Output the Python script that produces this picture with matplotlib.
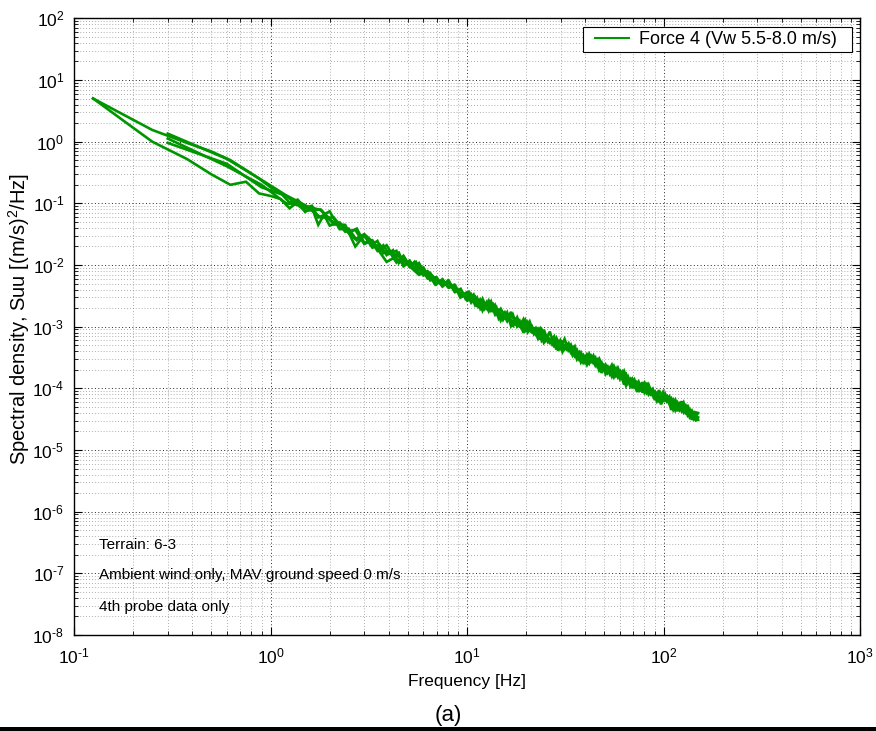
import numpy as np
import matplotlib
matplotlib.use("Agg")
import matplotlib.pyplot as plt
from matplotlib.ticker import LogLocator, NullFormatter, FuncFormatter
from matplotlib.patches import Rectangle

plt.rcParams['font.family'] = ['Liberation Sans', 'DejaVu Sans']
plt.rcParams['mathtext.fontset'] = 'custom'
plt.rcParams['mathtext.rm'] = 'Liberation Sans'
plt.rcParams['mathtext.it'] = 'Liberation Sans:italic'
plt.rcParams['mathtext.bf'] = 'Liberation Sans:bold'

# ---- data: log10 of spectral density Suu ----
freq_a = [0.125, 0.25, 0.375, 0.5, 0.625, 0.75, 0.875, 1.0,
          1.125, 1.25, 1.375, 1.5, 1.625, 1.75, 1.875, 2.0,
          2.25, 2.5, 2.75, 3.0, 3.25, 3.5, 3.75, 4.0,
          4.375, 4.75, 5.125, 5.5, 6.0, 6.5, 7.0, 7.5, 8.0, 8.625, 9.25, 10,
          10.5, 11, 11.5, 12, 12.625, 13.25, 13.875, 14.5, 15.25, 16,
          16.75, 17.625, 18.5, 19.375, 20.375, 21.375, 22.375, 23.5, 24.625, 25.875,
          27.125, 28.5, 29.875, 31.375, 32.875, 34.5, 36.25, 38, 39.875, 41.875,
          44, 46.125, 48.375, 50.75, 53.25, 55.875, 58.625, 61.5, 64.5, 67.75,
          71.125, 74.625, 78.25, 82.125, 86.125, 90.375, 94.875, 99.5, 104.375, 109.5,
          115, 120.625, 126.5, 132.75, 139.25, 146, 150]
log_suu_a1 = [0.70, 0.19, -0.02, -0.16, -0.30, -0.46, -0.60, -0.74,
              -0.83, -0.99, -0.94, -1.08, -1.04, -1.23, -1.19, -1.36,
              -1.31, -1.48, -1.41, -1.64, -1.61, -1.77, -1.68, -1.82,
              -1.77, -2.02, -1.94, -2.09, -2.04, -2.25, -2.20, -2.34, -2.25, -2.43, -2.39, -2.57,
              -2.48, -2.65, -2.57, -2.74, -2.60, -2.74, -2.65, -2.87, -2.78, -2.91,
              -2.76, -2.96, -2.90, -3.10, -2.93, -3.08, -3.02, -3.21, -3.05, -3.25,
              -3.19, -3.37, -3.22, -3.36, -3.27, -3.47, -3.38, -3.58, -3.48, -3.60,
              -3.47, -3.65, -3.58, -3.77, -3.67, -3.82, -3.67, -3.84, -3.77, -3.97,
              -3.86, -4.06, -3.90, -4.08, -4.02, -4.19, -4.03, -4.20, -4.13, -4.35,
              -4.19, -4.35, -4.23, -4.44, -4.36, -4.52, -4.51]
log_suu_a2 = [0.70, 0.00, -0.28, -0.53, -0.70, -0.65, -0.84, -0.88,
              -0.93, -1.08, -0.98, -1.14, -1.07, -1.35, -1.18, -1.13,
              -1.42, -1.41, -1.60, -1.51, -1.68, -1.61, -1.81, -1.77,
              -1.96, -1.85, -2.02, -1.95, -2.17, -2.13, -2.31, -2.23, -2.36, -2.32, -2.53, -2.47,
              -2.61, -2.52, -2.70, -2.55, -2.70, -2.59, -2.80, -2.73, -2.89, -2.77,
              -2.99, -2.88, -2.99, -2.88, -3.09, -2.99, -3.12, -3.03, -3.26, -3.17,
              -3.29, -3.18, -3.34, -3.20, -3.39, -3.33, -3.53, -3.42, -3.58, -3.44,
              -3.59, -3.53, -3.75, -3.62, -3.77, -3.64, -3.82, -3.73, -3.96, -3.85,
              -3.98, -3.89, -4.07, -3.91, -4.10, -4.05, -4.20, -4.06, -4.22, -4.16,
              -4.36, -4.25, -4.39, -4.27, -4.51, -4.39, -4.40]

freq_b = [0.3, 0.6, 0.9, 1.2, 1.5, 1.8, 2.1, 2.4, 2.7, 3.0, 3.3, 3.6, 3.9,
          4.2, 4.5, 4.8, 5.1, 5.4, 5.7, 6.3, 6.9, 7.5, 8.1, 8.7, 9.3, 9.9,
          10.2, 10.8, 11.25, 11.7, 12.3, 12.9, 13.5, 14.1, 14.85, 15.6,
          16.35, 17.1, 18.0, 18.9, 19.8, 20.85, 21.9, 22.95, 24.0, 25.2,
          26.4, 27.75, 29.1, 30.6, 32.1, 33.75, 35.4, 37.2, 39.0, 40.8,
          42.9, 45.0, 47.1, 49.5, 51.9, 54.6, 57.3, 60.0, 63.0, 66.0,
          69.3, 72.9, 76.5, 80.1, 84.0, 88.2, 92.7, 97.2, 102.0, 107.1,
          112.2, 117.9, 123.6, 129.6, 135.9, 142.8, 148.2]
log_suu_b1 = [0.13, -0.28, -0.62, -0.87, -1.03, -1.23, -1.23, -1.46, -1.43, -1.66, -1.60, -1.77, -1.68,
              -1.85, -1.80, -2.01, -1.93, -2.05, -1.97, -2.22, -2.20, -2.35, -2.26, -2.44, -2.39, -2.57,
              -2.42, -2.60, -2.53, -2.71, -2.62, -2.75, -2.61, -2.80, -2.71, -2.84,
              -2.80, -3.00, -2.85, -3.02, -2.89, -3.06, -3.03, -3.19, -3.05, -3.22,
              -3.08, -3.31, -3.24, -3.41, -3.28, -3.42, -3.32, -3.53, -3.46, -3.62,
              -3.48, -3.63, -3.52, -3.68, -3.64, -3.81, -3.68, -3.85, -3.72, -3.90,
              -3.84, -4.03, -3.94, -4.07, -3.94, -4.12, -4.07, -4.26, -4.09, -4.24,
              -4.18, -4.37, -4.21, -4.40, -4.34, -4.50, -4.42]
log_suu_b2 = [0.05, -0.40, -0.70, -1.00, -1.04, -1.11, -1.34, -1.35, -1.70, -1.52, -1.72, -1.67, -1.84,
              -1.76, -1.97, -1.90, -2.03, -1.95, -2.13, -2.13, -2.32, -2.24, -2.37, -2.33, -2.50, -2.45,
              -2.56, -2.48, -2.68, -2.57, -2.71, -2.58, -2.74, -2.68, -2.90, -2.77,
              -2.89, -2.80, -3.00, -2.93, -3.06, -2.92, -3.12, -3.04, -3.23, -3.15,
              -3.26, -3.16, -3.39, -3.26, -3.37, -3.29, -3.48, -3.41, -3.58, -3.45,
              -3.57, -3.50, -3.71, -3.62, -3.75, -3.62, -3.80, -3.72, -3.94, -3.81,
              -3.98, -3.90, -4.02, -3.91, -4.10, -4.01, -4.21, -4.10, -4.20, -4.13,
              -4.35, -4.23, -4.37, -4.28, -4.47, -4.39, -4.49]

freq_c = [0.3, 0.6, 0.9, 1.2, 1.5, 1.8, 2.1, 2.4, 2.7, 3.0, 3.3, 3.9, 4.5, 5.1, 5.7, 6.3,
          7.2, 8.1, 9.0, 9.9, 11.1, 12.3, 13.8, 15.3, 16.8, 18.6, 20.4, 22.5, 24.9, 27.3,
          30.0, 33.0, 36.3, 39.9, 43.8, 48.0, 52.5, 57.6, 63.0, 69.0, 75.6, 82.5, 90.0,
          98.1, 106.8, 115.8, 125.4, 135.3, 144.9, 150.0]
log_suu_c = [-0.02, -0.36, -0.74, -0.88, -1.12, -1.10, -1.32, -1.42, -1.58, -1.50, -1.62, -1.95,
             -1.84, -2.02, -2.16, -2.10, -2.28, -2.30, -2.44, -2.52, -2.55, -2.70, -2.72, -2.86,
             -2.90, -3.00, -3.05, -3.13, -3.20, -3.26, -3.33, -3.37, -3.46, -3.50, -3.58, -3.63,
             -3.70, -3.77, -3.83, -3.90, -3.97, -4.04, -4.10, -4.17, -4.22, -4.28, -4.33, -4.39,
             -4.44, -4.47]

series = [(freq_a, log_suu_a1), (freq_a, log_suu_a2),
          (freq_b, log_suu_b1), (freq_b, log_suu_b2), (freq_c, log_suu_c)]

legend_label = 'Force 4 (Vw 5.5-8.0 m/s)'
notes = ['Terrain: 6-3', 'Ambient wind only, MAV ground speed 0 m/s', '4th probe data only']
note_logy = [-6.54, -7.03, -7.54]
green = '#009600'

# ---- figure ----
W, H = 876, 731
fig = plt.figure(figsize=(W / 100, H / 100), dpi=100)
ax = fig.add_axes([74 / W, 1 - 635 / H, (860 - 74) / W, (635 - 18.3) / H])

for i, (f, ls) in enumerate(series):
    ax.plot(f, np.power(10.0, ls), color=green, lw=1.9,
            label=legend_label if i == 0 else None, solid_joinstyle='miter', zorder=3)

ax.set_xscale('log')
ax.set_yscale('log')
ax.set_xlim(1e-1, 1e3)
ax.set_ylim(1e-8, 1e2)


def pow10_label(v, pos):
    e = int(round(np.log10(v)))
    s = str(e).replace('-', r'\text{-}')
    return r'$10^{' + s + '}$'


ax.xaxis.set_major_locator(LogLocator(base=10, numticks=20))
ax.yaxis.set_major_locator(LogLocator(base=10, numticks=20))
ax.xaxis.set_major_formatter(FuncFormatter(pow10_label))
ax.yaxis.set_major_formatter(FuncFormatter(pow10_label))
ax.xaxis.set_minor_locator(LogLocator(base=10, subs=np.arange(2, 10), numticks=200))
ax.yaxis.set_minor_locator(LogLocator(base=10, subs=np.arange(2, 10), numticks=200))
ax.xaxis.set_minor_formatter(NullFormatter())
ax.yaxis.set_minor_formatter(NullFormatter())

ax.grid(True, which='major', linestyle=(0, (1, 2.5)), color='k', lw=0.7, alpha=0.85)
ax.grid(True, which='minor', linestyle=(0, (1, 2.5)), color='#666666', lw=0.6, alpha=0.7)

ax.tick_params(which='both', direction='in', top=True, right=True, labelsize=12.5, color='k')
ax.tick_params(which='major', length=6, width=0.8)
ax.tick_params(axis='x', which='major', pad=8)
ax.tick_params(axis='y', which='major', pad=7)
ax.tick_params(which='minor', length=3, width=0.6)
for s in ax.spines.values():
    s.set_linewidth(1.0)
    s.set_color('k')

ax.set_xlabel('Frequency [Hz]', fontsize=12.5, labelpad=6)
ax.set_ylabel('Spectral density, Suu [(m/s)$^2$/Hz]', fontsize=14.5, va='center')
ax.yaxis.set_label_coords((19 - 74) / (860 - 74), (635 - 319) / (635 - 18.3))

for txt, ly in zip(notes, note_logy):
    ax.text(0.134, 10 ** ly, txt, fontsize=11, va='center', ha='left')

# legend box drawn to match the wide side padding of the original
box = Rectangle((583 / W, 1 - 52 / H), (852 - 583) / W, 25 / H, transform=fig.transFigure,
                facecolor='white', edgecolor='k', lw=0.8, zorder=4, clip_on=False)
ax.add_artist(box)
leg = ax.legend(loc='center left', bbox_to_anchor=(595 / W, 1 - 39.5 / H),
                bbox_transform=fig.transFigure, fontsize=13, frameon=False,
                borderpad=0, handlelength=1.9, handletextpad=0.55, borderaxespad=0)
leg.set_zorder(5)
for h in leg.get_lines():
    h.set_linewidth(1.5)

fig.text(448 / W, 1 - 715 / H, '(a)', fontsize=16, ha='center', va='center')
fig.add_artist(Rectangle((0, 0), 1, 4 / H, transform=fig.transFigure,
                         facecolor='k', edgecolor='none'))

fig.savefig('out.png', dpi=100)
